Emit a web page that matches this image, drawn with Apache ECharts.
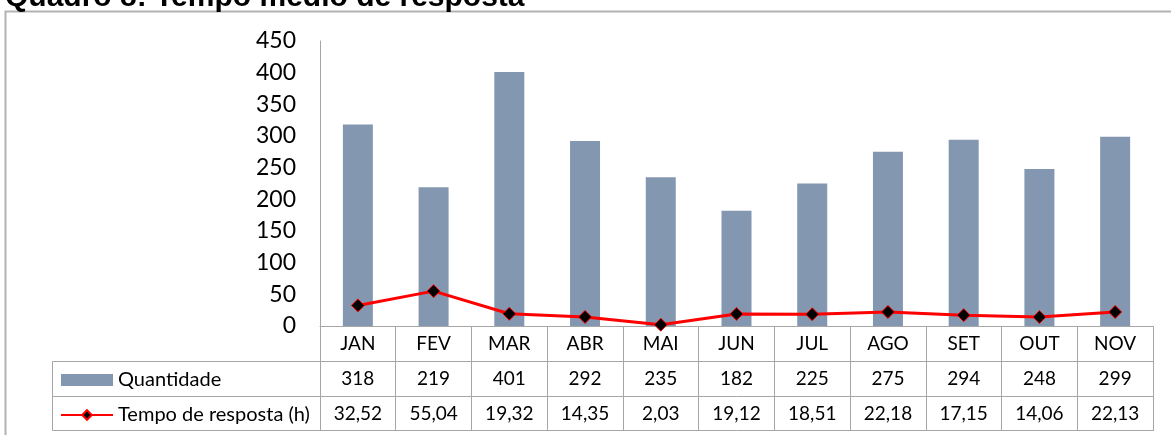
<!DOCTYPE html>
<html>
<head>
<meta charset="utf-8">
<script src="https://cdn.jsdelivr.net/npm/echarts@6/dist/echarts.min.js"></script>
<style>
  html, body { margin: 0; padding: 0; background: #ffffff; }
  #chart { width: 1171px; height: 435px; }
</style>
</head>
<body>
<div id="chart"></div>
<script>
// data
const months = ["JAN", "FEV", "MAR", "ABR", "MAI", "JUN", "JUL", "AGO", "SET", "OUT", "NOV"];
const quantidade = [318, 219, 401, 292, 235, 182, 225, 275, 294, 248, 299];
const tempoResposta = [32.52, 55.04, 19.32, 14.35, 2.03, 19.12, 18.51, 22.18, 17.15, 14.06, 22.13];
const yTicks = { min: 0, max: 450, interval: 50 };

const font = "Lato, 'Open Sans', sans-serif";
const gridLeft = 320;
const gridRight = 18;
const gridTop = 41;
const gridBottom = 109;
const rowH = 35;
const lineColor = "#a6a6a6";
const tableY = 435 - gridBottom;

const fmtComma = (v) => v.toFixed(2).replace(".", ",");

const chart = echarts.init(document.getElementById("chart"));

// the extra x axes act as the rows of the data table under the plot
const tableAxis = (offset, labels) => ({
  type: "category",
  data: months,
  position: "bottom",
  offset: offset,
  axisLine: { show: true, lineStyle: { color: lineColor, width: 1 } },
  axisTick: { show: false },
  axisLabel: {
    margin: 8,
    fontSize: 19,
    fontFamily: font,
    color: "#000",
    formatter: (val, idx) => labels[idx],
  },
  splitLine: { show: false },
});

const option = {
  animation: false,
  title: {
    text: "Quadro 8: Tempo médio de resposta",
    left: 0,
    top: -22,
    textStyle: { fontSize: 30, fontWeight: "bold", fontFamily: "'Liberation Sans', Arial, sans-serif", color: "#000" },
  },
  legend: {
    orient: "vertical",
    left: 55,
    top: tableY + rowH + 4,
    itemGap: 15,
    itemWidth: 52,
    itemHeight: 12,
    textStyle: { fontSize: 20, lineHeight: 20, fontFamily: font, color: "#000" },
    data: [
      { name: "Quantidade", icon: "rect", itemStyle: { color: "#8497b0" } },
      { name: "Tempo de resposta (h)" },
    ],
  },
  grid: { left: gridLeft, right: gridRight, top: gridTop, bottom: gridBottom, containLabel: false },
  xAxis: [
    {
      type: "category",
      data: months,
      position: "bottom",
      axisLine: { show: true, lineStyle: { color: lineColor, width: 1 } },
      axisTick: { show: true, alignWithLabel: false, length: rowH * 3, lineStyle: { color: lineColor, width: 1 } },
      axisLabel: { margin: 8, fontSize: 19, fontFamily: font, color: "#000" },
      splitLine: { show: false },
    },
    tableAxis(rowH, quantidade.map(String)),
    tableAxis(rowH * 2, tempoResposta.map(fmtComma)),
    Object.assign(tableAxis(rowH * 3 - 1, months.map(() => "")), { axisLabel: { show: false } }),
  ],
  yAxis: {
    type: "value",
    min: yTicks.min,
    max: yTicks.max,
    interval: yTicks.interval,
    axisLine: { show: true, lineStyle: { color: lineColor, width: 1 } },
    axisTick: { show: false },
    splitLine: { show: false },
    axisLabel: { margin: 24, fontSize: 23, fontFamily: font, color: "#000" },
  },
  graphic: [
    // outer frame of the pasted chart
    {
      type: "rect",
      shape: { x: 5.5, y: 11.5, width: 1200, height: 500 },
      style: { fill: "none", stroke: "#b3b3b3", lineWidth: 2 },
      silent: true,
      z: -1,
    },
    // legend column of the table
    {
      type: "rect",
      shape: { x: 52.5, y: tableY + rowH + 0.5, width: gridLeft - 52, height: rowH * 2 - 1 },
      style: { fill: "none", stroke: lineColor, lineWidth: 1 },
      silent: true,
    },
    {
      type: "line",
      shape: { x1: 52, y1: tableY + rowH * 2 + 0.5, x2: gridLeft, y2: tableY + rowH * 2 + 0.5 },
      style: { stroke: lineColor, lineWidth: 1 },
      silent: true,
    },
  ],
  series: [
    {
      name: "Quantidade",
      type: "bar",
      data: quantidade,
      barWidth: 30,
      itemStyle: { color: "#8497b0" },
      z: 2,
    },
    {
      name: "Tempo de resposta (h)",
      type: "line",
      data: tempoResposta,
      symbol: "diamond",
      symbolSize: 13,
      lineStyle: { color: "#ff0000", width: 3 },
      itemStyle: { color: "#000000", borderColor: "#ff0000", borderWidth: 1 },
      z: 3,
    },
  ],
};

chart.setOption(option);
</script>
</body>
</html>
